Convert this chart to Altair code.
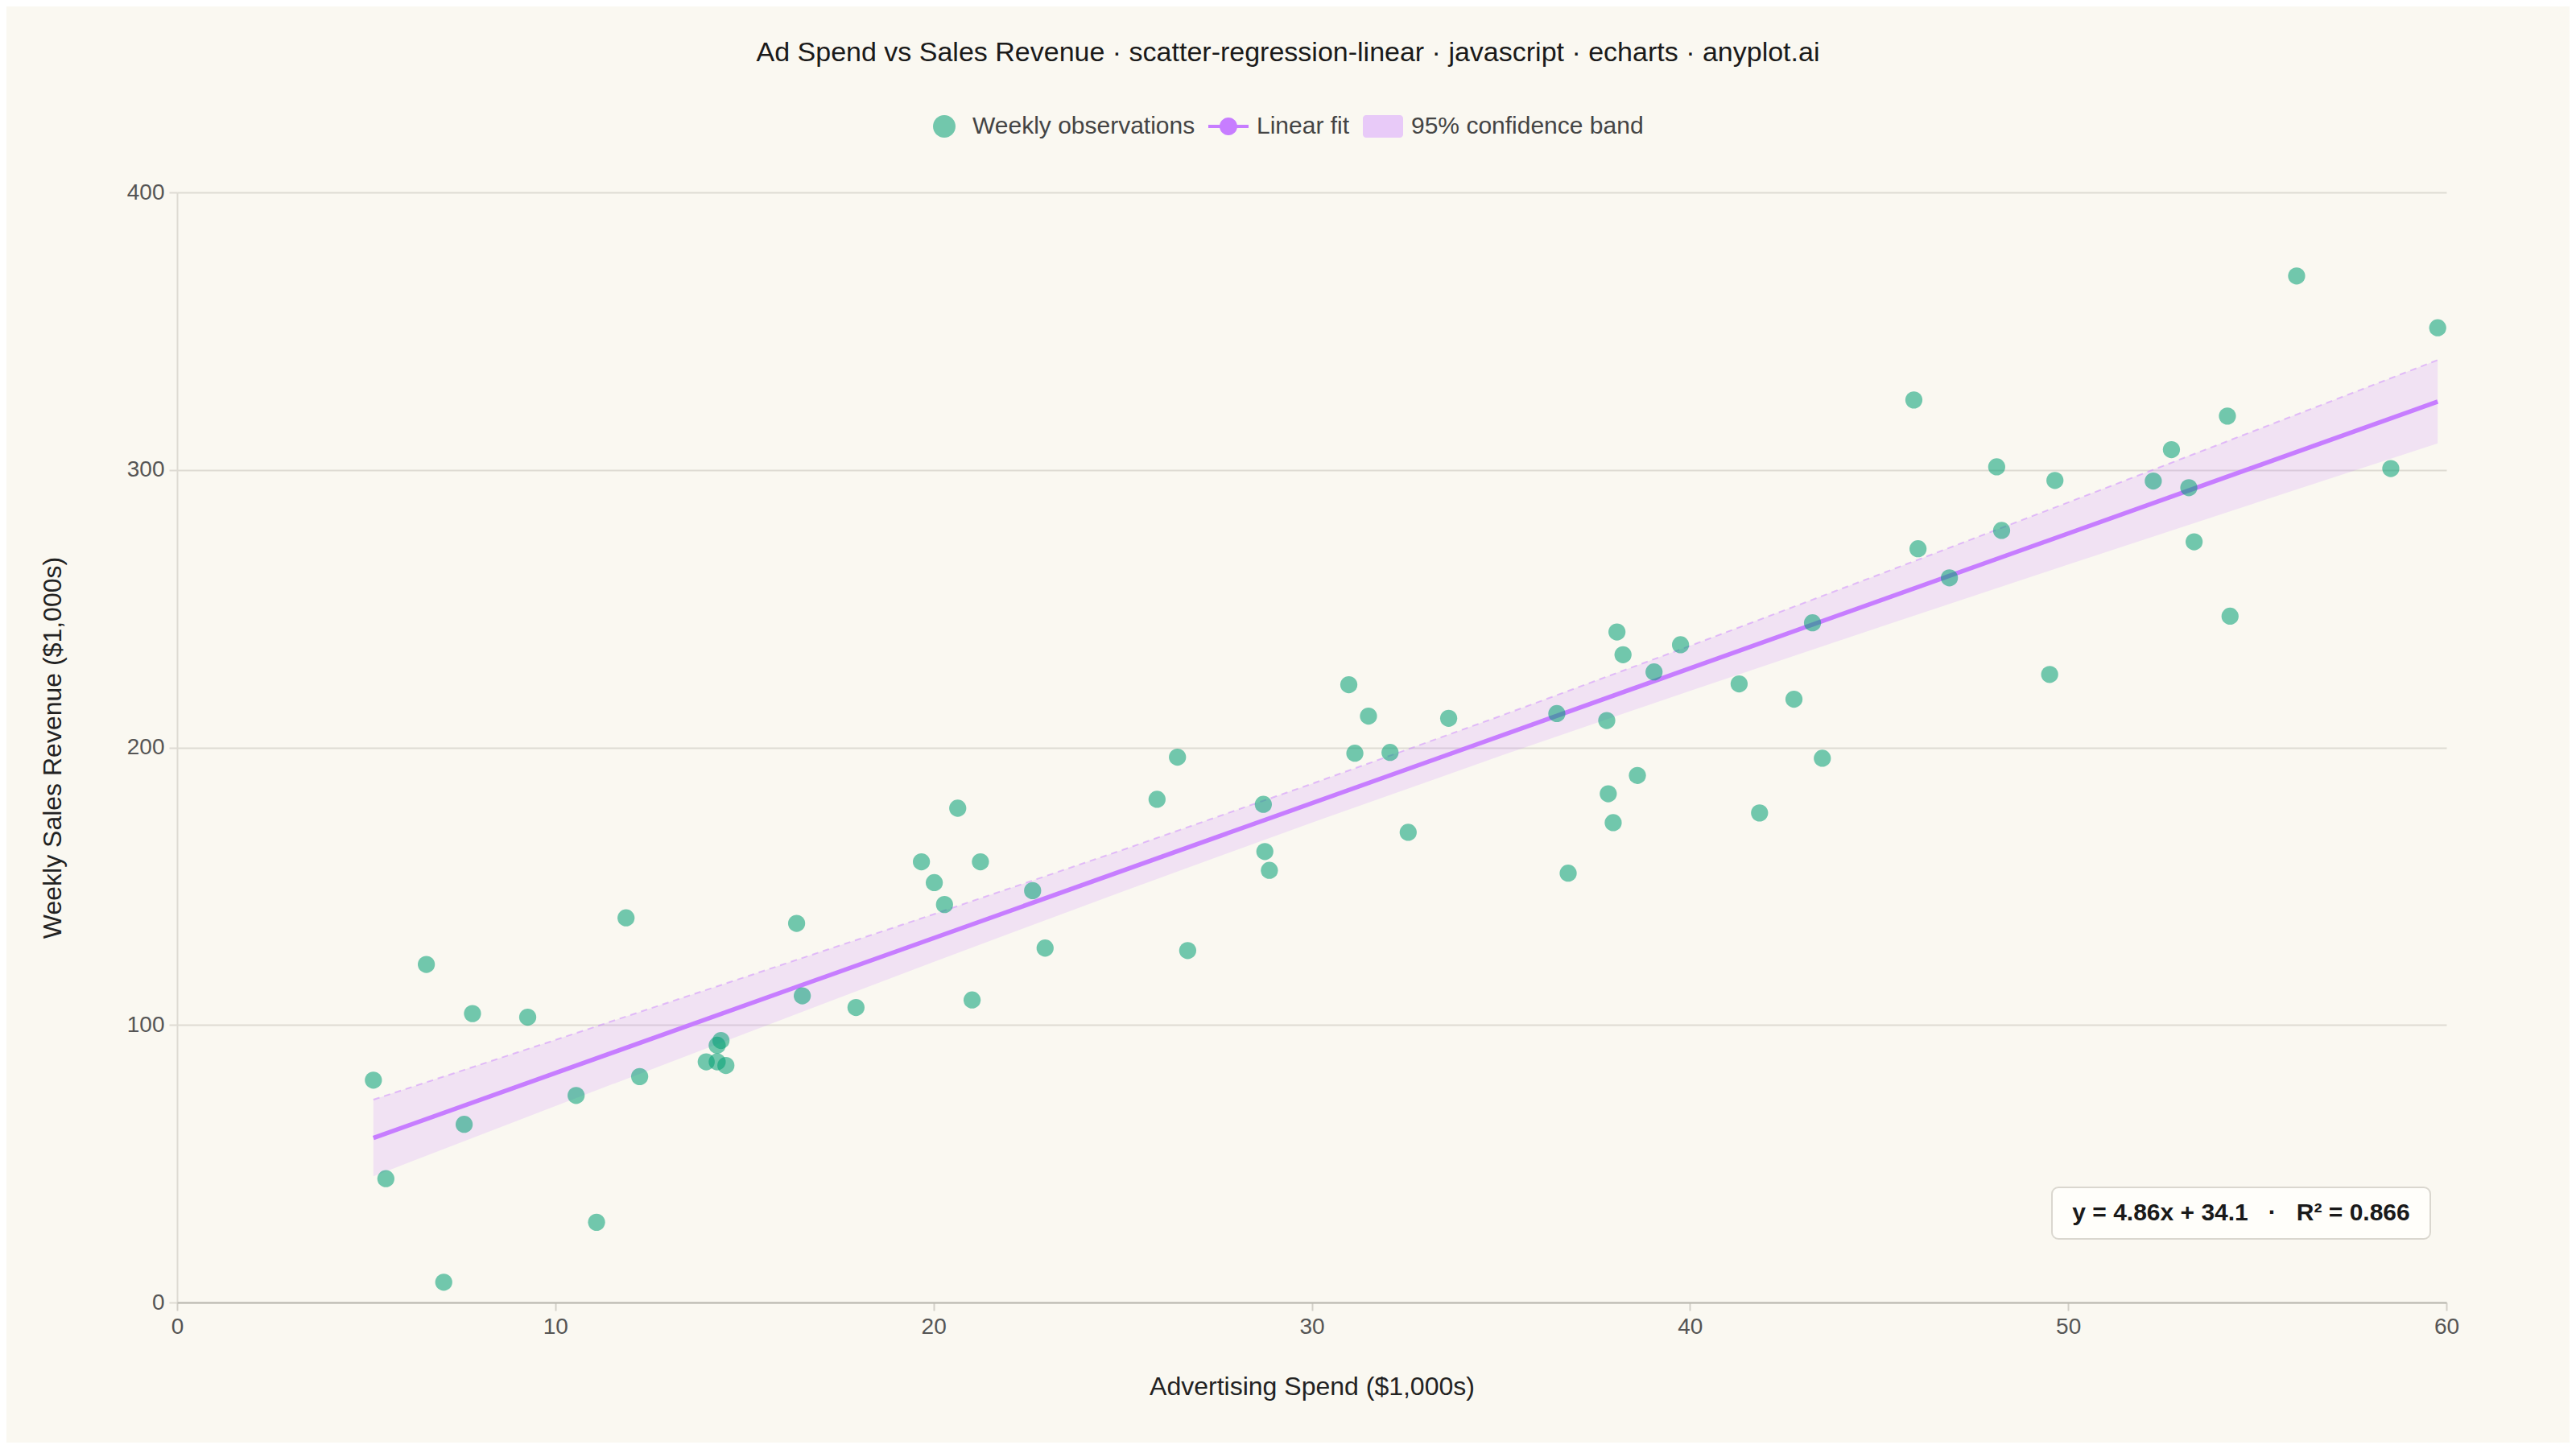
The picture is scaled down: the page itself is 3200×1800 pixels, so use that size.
import altair as alt
import pandas as pd

# ---------------- data ----------------
ad_spend = [5.19, 5.52, 6.59, 7.05, 7.59, 7.81, 9.27, 10.55, 11.09, 11.87, 12.23,
            13.99, 14.28, 14.51, 14.28, 14.38,
            16.38, 16.53, 17.95, 19.68, 20.02, 20.29, 20.64, 21.02, 21.24, 22.62, 22.95,
            25.91, 26.45, 26.72, 28.72, 28.76, 28.88, 30.98, 31.14, 31.50, 32.07, 32.55,
            33.62, 36.48, 36.78, 37.80, 37.84, 37.97, 38.07, 38.23, 38.61, 39.05, 39.75,
            41.30, 41.84, 42.75, 43.24, 43.50,
            45.92, 46.03, 46.86, 48.11, 48.24, 49.51, 49.65, 52.25, 52.73, 53.19, 53.33,
            54.21, 54.28, 56.04, 58.53, 59.77]
revenue = [80.1, 44.6, 121.8, 7.3, 64.2, 104.1, 102.8, 74.6, 28.9, 138.6, 81.4,
           86.7, 86.7, 85.4, 92.7, 94.4,
           136.6, 110.5, 106.3, 158.8, 151.3, 143.4, 178.1, 109.0, 158.8, 148.4, 127.7,
           181.3, 196.5, 126.8, 179.5, 162.5, 155.7, 222.6, 197.9, 211.3, 198.2, 169.4,
           210.5, 212.2, 154.7, 209.7, 183.3, 172.9, 241.6, 233.4, 189.9, 227.2, 237.0,
           222.9, 176.4, 217.4, 244.9, 196.1,
           325.2, 271.6, 261.1, 301.1, 278.2, 226.3, 296.2, 296.0, 307.3, 293.6, 274.1,
           319.4, 247.3, 369.9, 300.5, 351.2]

fit_x = [5.19, 59.77]
fit_y = [59.3, 324.6]

band_x = [5.19, 10, 15, 20, 25, 30, 35, 40, 45, 50, 55, 59.77]
band_lower = [45.5, 70.8, 96.8, 122.7, 148.1, 172.9, 197.0, 220.4, 243.3, 265.9, 288.3, 309.6]
band_upper = [73.1, 94.6, 117.2, 139.9, 163.1, 186.9, 211.4, 236.6, 262.3, 288.3, 314.5, 339.6]

series_labels = ["Weekly observations", "Linear fit", "95% confidence band"]
series_colors = ["#72C7AC", "#C77DFF", "#E8CAF8"]
series_shapes = [
    "M0.56,0 A0.56,0.56 0 1 1 -0.56,0 A0.56,0.56 0 1 1 0.56,0 Z",
    "M-1,-0.08 L1,-0.08 L1,0.08 L-1,0.08 Z M0.44,0 A0.44,0.44 0 1 1 -0.44,0 A0.44,0.44 0 1 1 0.44,0 Z",
    "M-0.84,-0.56 L0.84,-0.56 A0.16,0.16 0 0 1 1,-0.4 L1,0.4 A0.16,0.16 0 0 1 0.84,0.56 "
    "L-0.84,0.56 A0.16,0.16 0 0 1 -1,0.4 L-1,-0.4 A0.16,0.16 0 0 1 -0.84,-0.56 Z",
]

x_ticks = [0, 10, 20, 30, 40, 50, 60]
y_ticks = [0, 100, 200, 300, 400]

title_text = "Ad Spend vs Sales Revenue · scatter-regression-linear · javascript · echarts · anyplot.ai"
NB = "\u00a0"
annotation = "y = 4.86x + 34.1" + NB * 3 + "·" + NB * 3 + "R² = 0.866"

# ---------------- styling ----------------
FONT = "Liberation Sans"
BG = "#FAF8F1"
GREEN = "#009E73"
PURPLE = "#C77DFF"
W, H = 2819, 1379

x_scale = alt.Scale(domain=[0, 60], nice=False, zero=False)
y_scale = alt.Scale(domain=[0, 400], nice=False)

x_axis = alt.Axis(
    title="Advertising Spend ($1,000s)", values=x_ticks, grid=False, format="d",
    labelFlush=False, labelOverlap=False,
    domainColor="#BAB8AF", domainWidth=2, tickColor="#D3D0C8", tickWidth=2, tickSize=10,
    labelFont=FONT, labelFontSize=28, labelColor="#555555", labelPadding=6,
    titleFont=FONT, titleFontSize=32, titleFontWeight="normal", titleColor="#222222",
    titlePadding=45, zindex=1,
)
y_axis = alt.Axis(
    title="Weekly Sales Revenue ($1,000s)", values=y_ticks, grid=True, format="d",
    labelFlush=False, labelOverlap=False,
    gridColor="#DEDBD3", gridWidth=2,
    domainColor="#DEDBD3", domainWidth=2, tickColor="#DEDBD3", tickWidth=2, tickSize=10,
    labelFont=FONT, labelFontSize=28, labelColor="#555555", labelPadding=6,
    titleFont=FONT, titleFontSize=32, titleFontWeight="normal", titleColor="#222222",
    titlePadding=75,
)


def X(field):
    return alt.X(field, type="quantitative", scale=x_scale, axis=x_axis)


def Y(field):
    return alt.Y(field, type="quantitative", scale=y_scale, axis=y_axis)


pts_df = pd.DataFrame({"x": ad_spend, "y": revenue})
band_df = pd.DataFrame({"x": band_x, "lo": band_lower, "hi": band_upper})
fit_df = pd.DataFrame({"x": fit_x, "y": fit_y})
legend_df = pd.DataFrame({"series": series_labels})
ann_df = pd.DataFrame({"label": [annotation]})

band = alt.Chart(band_df).mark_area(color=PURPLE, opacity=0.18).encode(
    x=X("x"), y=Y("lo"), y2="hi"
)
upper = alt.Chart(band_df).mark_line(
    color=PURPLE, opacity=0.45, strokeWidth=2, strokeDash=[8, 6]
).encode(x=X("x"), y=Y("hi"))
fit = alt.Chart(fit_df).mark_line(color=PURPLE, strokeWidth=5.5).encode(x=X("x"), y=Y("y"))
points = alt.Chart(pts_df).mark_circle(color=GREEN, opacity=0.55, size=452).encode(
    x=X("x"), y=Y("y")
)

box = alt.Chart(ann_df).mark_rect(
    fill="#FFFEFA", stroke="#DAD7CF", strokeWidth=2, cornerRadius=8
).encode(x=alt.value(2329), x2=alt.value(2799), y=alt.value(1236), y2=alt.value(1300))
ann_text = alt.Chart(ann_df).mark_text(
    font=FONT, fontSize=30, fontWeight="bold", color="#1A1A1A",
    align="center", baseline="middle",
).encode(x=alt.value(2564), y=alt.value(1268), text="label:N")

legend_kw = dict(
    orient="none", legendX=928, legendY=-107, direction="horizontal", title=None,
    labelFont=FONT, labelFontSize=30, labelColor="#444444", labelOffset=10, labelLimit=0,
    symbolSize=2500, symbolStrokeWidth=0, symbolOpacity=1, columnPadding=16, padding=0,
)
legend_layer = alt.Chart(legend_df).mark_point(filled=True, clip=True).encode(
    x=alt.value(-300),
    y=alt.value(-300),
    color=alt.Color("series:N", scale=alt.Scale(domain=series_labels, range=series_colors),
                    legend=alt.Legend(**legend_kw)),
    shape=alt.Shape("series:N", scale=alt.Scale(domain=series_labels, range=series_shapes),
                    legend=alt.Legend(**legend_kw)),
)

chart = alt.layer(band, upper, fit, points, box, ann_text, legend_layer).properties(
    width=W,
    height=H,
    padding={"left": 212, "top": 231, "right": 153, "bottom": 174},
    autosize=alt.AutoSizeParams(type="none"),
    title=alt.TitleParams(
        text=title_text, font=FONT, fontSize=34, fontWeight="normal", color="#1A1A1A",
        anchor="middle", frame="group", dx=-29.5, offset=49,
    ),
).configure(background=BG).configure_view(stroke=None)

chart.save("out.html", embed_options={"renderer": "svg", "actions": False})
